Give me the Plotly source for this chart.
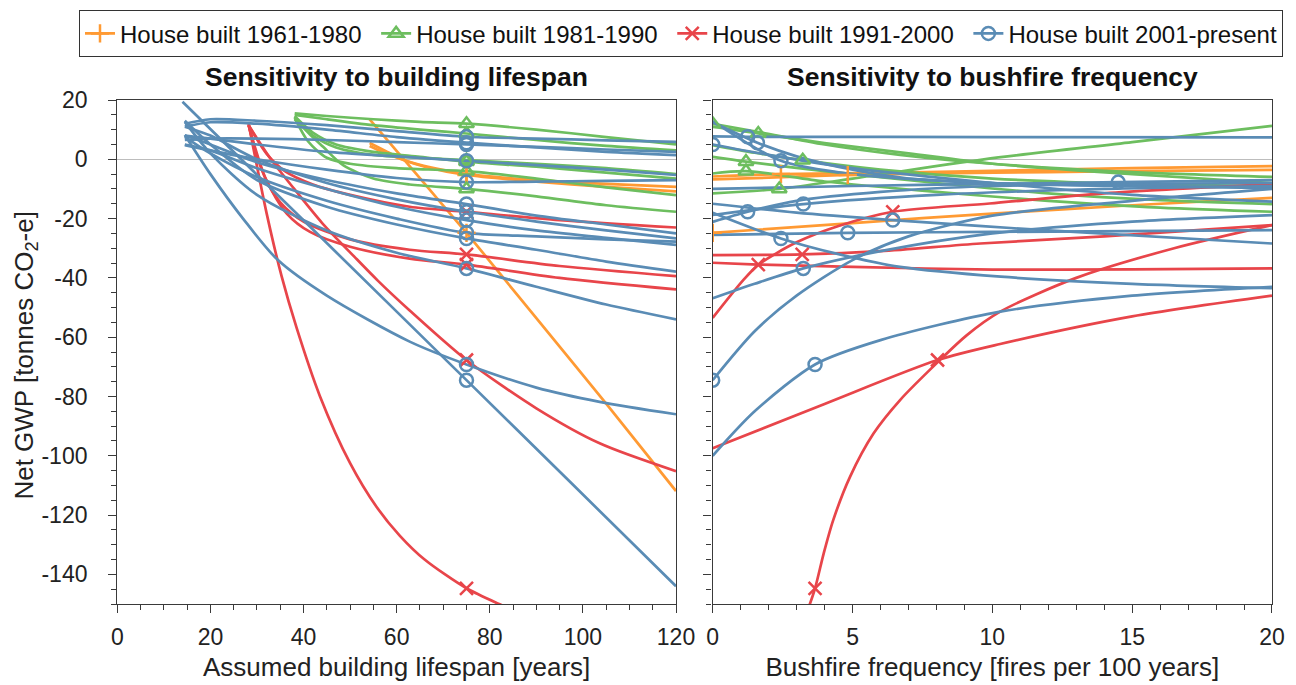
import plotly.graph_objects as go

BASE_LIFESPAN = 75

# ---------------- House built 1961-1980 ----------------
base_gwp_1961 = [-5.0, -5.3, -24.8]
base_fire_1961 = [2.44, 4.83, 0.0]
life_1961 = [
    ([54.2, 58, 62, 68, 90, 105, 120], [5.5, 2.5, -0.5, -3, -7, -8.3, -9.3]),
    ([54.2, 57, 61, 66, 90, 105, 120], [4.5, 2.5, 0, -2.5, -7.5, -9.3, -10.8]),
    ([54.2, 62, 68, 81, 90, 105, 120], [13.5, -0.9, -11.9, -36.3, -53.6, -82.4, -111.9]),
]
fire_1961 = [
    ([0, 6, 10, 15, 20], [-5.8, -4.6, -3.9, -3.0, -2.3]),
    ([0, 2, 8, 12, 16, 20], [-6.8, -6.2, -4.8, -4.3, -3.9, -3.6]),
    ([5, 10, 15, 20], [-21.5, -18.3, -15.5, -13]),
]

# ---------------- House built 1981-1990 ----------------
base_gwp_1981 = [12.0, 8.7, -0.8, -0.3, -4.0, -10.0]
base_fire_1981 = [0.0, 1.63, 1.19, 3.22, 1.19, 2.38]
life_1981 = [
    ([38.1, 45, 55, 65, 90, 105, 120], [15.5, 14.6, 13.5, 12.6, 10, 7.5, 5]),
    ([38.1, 45, 55, 65, 90, 105, 120], [15, 13.5, 11.5, 10, 6.5, 4.5, 3]),
    ([38.1, 42, 47, 55, 65, 90, 105, 120], [14.5, 9, 5, 2.5, 0.8, -2.5, -4.5, -6.5]),
    ([38.1, 42, 47, 55, 65, 90, 105, 120], [13.5, 8, 4, 1.5, 0.5, -1.5, -3, -5]),
    ([38.1, 41, 45, 50, 60, 90, 105, 120], [14, 6, 0.5, -1.5, -3, -6.5, -9.5, -12.1]),
    ([38.1, 41, 44.2, 48.5, 55, 62.8, 90, 105, 120], [14.5, 9, 4.2, -2, -6.5, -8.5, -12.5, -15.5, -17.7]),
]
fire_1981 = [
    ([1.6, 4, 6.7, 10, 15, 20], [9.3, 5, 1.5, -1.5, -4.3, -5.9]),
    ([0, 4, 7, 10, 15, 20], [11, 5.5, 2, -1.5, -5, -8]),
    ([0, 4, 8, 12, 16, 20], [0.8, -4, -8, -11.5, -13.8, -15.1]),
    ([0, 1.5, 6, 10, 15, 20], [4.8, 2.2, -3.5, -6.5, -8.3, -9]),
    ([0, 4, 8, 12, 16, 20], [-4.8, -7.5, -11, -14, -16.3, -17.7]),
    ([0, 5, 9.7, 15, 20], [-11.5, -6.5, 0, 5.8, 11.3]),
]

# ---------------- House built 1991-2000 ----------------
base_gwp_1991 = [-17.7, -32.1, -35.5, -67.7, -144.7]
base_fire_1991 = [6.44, 3.2, 1.63, 8.04, 3.66]
life_1991 = [
    ([28.2, 32, 36, 42, 50, 62.8, 95, 120], [11.5, 2, -4, -8.5, -12, -16, -20.5, -23]),
    ([28.2, 30, 32, 35, 40, 50, 62.8, 95, 120], [11.5, 1, -7, -14.5, -21, -27, -30.5, -36, -39.4]),
    ([28.2, 32, 36.4, 41.4, 50, 62.8, 95, 120], [11.5, -7, -18.3, -24.5, -29.5, -33.5, -40, -43.9]),
    ([28.2, 33, 38, 44, 51, 56, 62.8, 90, 103.6, 120], [11.5, 0, -10, -21.5, -33, -41, -51, -84, -95.8, -105.2]),
    ([28.2, 32.1, 35.3, 38.5, 43.5, 50, 55.7, 60.7, 66, 82, 88],
     [12, -18.4, -39.5, -56.8, -79.8, -102.5, -117.3, -127, -135, -150, -154]),
]
fire_1991 = [
    ([0, 1.1, 1.63, 3, 4.5, 9.9, 14, 20], [-53.5, -40.7, -35.6, -28, -22.5, -14.9, -11.5, -8.4]),
    ([0, 6, 9.57, 14, 20], [-32.3, -31, -28.4, -26, -22.2]),
    ([0, 5, 10, 15, 20], [-34.9, -36.3, -37.2, -37.1, -36.8]),
    ([0, 4, 10.28, 15, 20], [-97.5, -82.5, -62.3, -53, -46]),
    ([3.4, 3.97, 4.31, 4.91, 5.75, 6.7, 8.04, 9.09, 10.28, 13, 16.5, 20],
     [-152, -132.9, -121.7, -107.1, -92.5, -81.2, -68.5, -59.3, -51.4, -40, -30, -22.2]),
]

# ---------------- House built 2001-present ----------------
base_gwp_2001 = [5.0, 7.6, 5.6, -0.5, -17.7, -15.1, -26.7, -24.8, -20.5, -36.8, -74.5, -69.2, -7.7]
base_fire_2001 = [0.0, 1.25, 1.6, 2.44, 1.25, 3.24, 2.44, 4.83, 6.44, 3.24, 0.0, 3.66, 14.5]
life_2001 = [
    ([14.5, 20, 30, 45, 60, 90, 105, 120], [6.5, 7, 7, 6.5, 5.8, 4.2, 3.3, 2.5]),
    ([14.5, 20, 30, 45, 60, 90, 105, 120], [12, 13.5, 13, 11.5, 9.5, 7, 6.4, 5.9]),
    ([14.5, 20, 30, 45, 60, 90, 105, 120], [11, 12.5, 12, 10, 7.5, 4, 2.5, 1.4]),
    ([14.5, 20, 30, 45, 60, 90, 105, 120], [8, 7, 5, 2.5, 1, -2, -3.5, -5.3]),
    ([14.5, 20, 30, 45, 60, 90, 105, 120], [11, 8, 0, -8, -13.5, -21, -24, -26.7]),
    ([14.5, 20, 30, 45, 60, 90, 105, 120], [8, 5, -1, -7, -11.5, -19, -22, -25]),
    ([14.5, 20, 30, 45, 60, 90, 105, 120], [13, 5, -7, -16, -22, -30.5, -34.5, -37.9]),
    ([14.5, 20, 30, 45, 60, 90, 105, 120], [7.6, 2, -6, -14, -20, -26, -27, -27.8]),
    ([14.5, 20, 30, 45, 60, 90, 105, 120], [5, 3, -3, -10, -16, -24, -26.5, -28.9]),
    ([14.5, 20, 30, 45, 60, 90, 105, 120], [12.6, 2, -12, -24, -31.5, -43, -49, -54]),
    ([14, 44.5, 97.5, 120], [19.4, -27.5, -109.2, -144]),
    ([14.5, 20, 27, 34.5, 45, 62.8, 90, 103.6, 120], [8.2, -5, -20, -34, -46, -61.5, -77, -81.8, -86]),
    ([14.5, 20, 30, 45, 60, 90, 105, 120], [4.8, 3, 0, -3.5, -6.3, -7.5, -7.3, -7]),
]
fire_2001 = [
    ([2, 5, 10, 15, 20], [1.5, -3, -8, -12, -14.3]),
    ([0, 10, 20], [7.7, 7.5, 7.4]),
    ([0, 3, 5, 7, 10, 15, 20], [12.5, 1, -3.5, -6.5, -8, -9, -9.7]),
    ([0, 5, 10, 15, 20], [12.9, -5, -8, -9, -9.5]),
    ([0, 3, 6, 10, 15, 20], [-21.1, -14, -11, -9, -8.3, -8]),
    ([0, 8, 14, 20], [-18.8, -12, -10, -9]),
    ([0, 4.5, 6.7, 10.3, 15, 20], [-18, -32, -36.3, -39.6, -42, -43.5]),
    ([0, 10, 20], [-25.5, -24.5, -23.9]),
    ([0, 3, 12, 20], [-15, -18, -24, -28.4]),
    ([0, 1.5, 6, 10, 15, 20], [-46.9, -42, -31, -25, -21, -18.8]),
    ([1.5, 3, 5, 7, 10, 15, 20], [-58, -46, -34, -26, -19, -14, -10]),
    ([0, 1.5, 6, 10.28, 15, 20], [-100, -85, -61, -51.4, -46, -43]),
    ([0, 5, 10, 20], [-10, -9, -8.3, -7]),
]

# legend labels (thin spaces keep the four entries evenly spaced)
labels = ["House built 1961-1980\u2009\u2009", "House built 1981-1990\u2009\u2009",
          "House built 1991-2000\u2009\u2009", "House built 2001-present"]

groups = [
    (labels[0], "#FF9A33", "cross-thin-open", life_1961, fire_1961, base_gwp_1961, base_fire_1961),
    (labels[1], "#6DBE5F", "triangle-up-open", life_1981, fire_1981, base_gwp_1981, base_fire_1981),
    (labels[2], "#E8454A", "x-thin-open", life_1991, fire_1991, base_gwp_1991, base_fire_1991),
    (labels[3], "#5A8CB5", "circle-open", life_2001, fire_2001, base_gwp_2001, base_fire_2001),
]

FONT = "Liberation Sans, Arial, sans-serif"
LINE_W = 2.7
AX = "#3a3a3a"
SMOOTH = 0.8

# plot-area layout (paper fractions of the area between the margins)
LEFT_DOM = [0.04674, 0.50245]
RIGHT_DOM = [0.53238, 0.98858]


def with_point(xs, ys, px, py):
    pts = sorted(list(zip(xs, ys)) + [(px, py)])
    return [p[0] for p in pts], [p[1] for p in pts]


fig = go.Figure()

# curves
for name, col, sym, life, fire, gwp, fires in groups:
    for (lx, ly), (fx, fy), v, f0 in zip(life, fire, gwp, fires):
        x1, y1 = with_point(lx, ly, BASE_LIFESPAN, v)
        fig.add_trace(go.Scatter(x=x1, y=y1, mode="lines", line=dict(color=col, width=LINE_W, shape="spline", smoothing=SMOOTH),
                                 xaxis="x", yaxis="y", showlegend=False, hoverinfo="skip"))
        x2, y2 = with_point(fx, fy, f0, v)
        fig.add_trace(go.Scatter(x=x2, y=y2, mode="lines", line=dict(color=col, width=LINE_W, shape="spline", smoothing=SMOOTH),
                                 xaxis="x2", yaxis="y2", showlegend=False, hoverinfo="skip"))

# baseline markers
for name, col, sym, life, fire, gwp, fires in groups:
    mk = dict(symbol=sym, size=13, color=col, line=dict(color=col, width=2.5))
    fig.add_trace(go.Scatter(x=[BASE_LIFESPAN] * len(gwp), y=gwp, mode="markers", marker=mk,
                             xaxis="x", yaxis="y", showlegend=False, hoverinfo="skip"))
    fig.add_trace(go.Scatter(x=fires, y=gwp, mode="markers", marker=mk,
                             xaxis="x2", yaxis="y2", showlegend=False, hoverinfo="skip"))
    fig.add_trace(go.Scatter(x=[None], y=[None], mode="lines+markers", name=name,
                             line=dict(color=col, width=LINE_W), marker=mk, xaxis="x", yaxis="y"))

axis_common = dict(showgrid=False, showline=True, linecolor=AX, linewidth=1.4, mirror=True,
                   ticks="outside", ticklen=8, tickwidth=1.4, tickcolor=AX, automargin=False,
                   tickfont=dict(family=FONT, size=23, color="#222"))
minor_y = dict(ticks="outside", ticklen=5, dtick=5, tickcolor=AX, tickwidth=1.4)
ytick_vals = list(range(-140, 21, 20))
ytick_text = [str(v) for v in ytick_vals]
title_font = dict(family=FONT, size=26, color="#222")

fig.update_layout(
    template="none",
    width=1296, height=685,
    margin=dict(l=60, r=10, t=100, b=81),
    paper_bgcolor="white", plot_bgcolor="white",
    font=dict(family=FONT, size=23, color="#222"),
    xaxis=dict(domain=LEFT_DOM, range=[0, 120], tickvals=list(range(0, 121, 20)), zeroline=False,
               minor=dict(ticks="outside", ticklen=5, dtick=5, tickcolor=AX, tickwidth=1.4),
               ticklabelstandoff=4,
               title=dict(text="Assumed building lifespan [years]", font=title_font, standoff=9),
               **axis_common),
    yaxis=dict(range=[-150, 20], tickvals=ytick_vals, ticktext=ytick_text, zeroline=True,
               zerolinecolor="#BDBDBD", zerolinewidth=1.2, minor=minor_y, ticklabelstandoff=16,
               **axis_common),
    xaxis2=dict(domain=RIGHT_DOM, range=[0, 20], tickvals=[0, 5, 10, 15, 20], zeroline=False, anchor="y2",
                minor=dict(ticks="outside", ticklen=5, dtick=1, tickcolor=AX, tickwidth=1.4),
                ticklabelstandoff=4,
                title=dict(text="Bushfire frequency [fires per 100 years]", font=title_font, standoff=9),
                **axis_common),
    yaxis2=dict(range=[-150, 20], tickvals=ytick_vals, showticklabels=False, zeroline=True, anchor="x2",
                zerolinecolor="#BDBDBD", zerolinewidth=1.2, minor=minor_y,
                **axis_common),
    legend=dict(orientation="h", x=0.0155, y=1.178, xanchor="left", yanchor="top",
                bordercolor="#333", borderwidth=1, bgcolor="white",
                font=dict(family=FONT, size=24, color="#111"), itemwidth=30),
    annotations=[
        dict(text="<b>Sensitivity to building lifespan</b>", x=sum(LEFT_DOM) / 2, y=1.0, xref="paper", yref="paper",
             xanchor="center", yanchor="bottom", yshift=6, showarrow=False, font=dict(family=FONT, size=26.5, color="#111")),
        dict(text="<b>Sensitivity to bushfire frequency</b>", x=sum(RIGHT_DOM) / 2, y=1.0, xref="paper", yref="paper",
             xanchor="center", yanchor="bottom", yshift=6, showarrow=False, font=dict(family=FONT, size=26.5, color="#111")),
        dict(text="Net GWP [tonnes CO<sub>2</sub>-e]", textangle=-90, x=-0.0285, y=0.493, xref="paper", yref="paper",
             xanchor="center", yanchor="middle", showarrow=False, font=title_font),
    ],
)

fig.write_html("out.html")
